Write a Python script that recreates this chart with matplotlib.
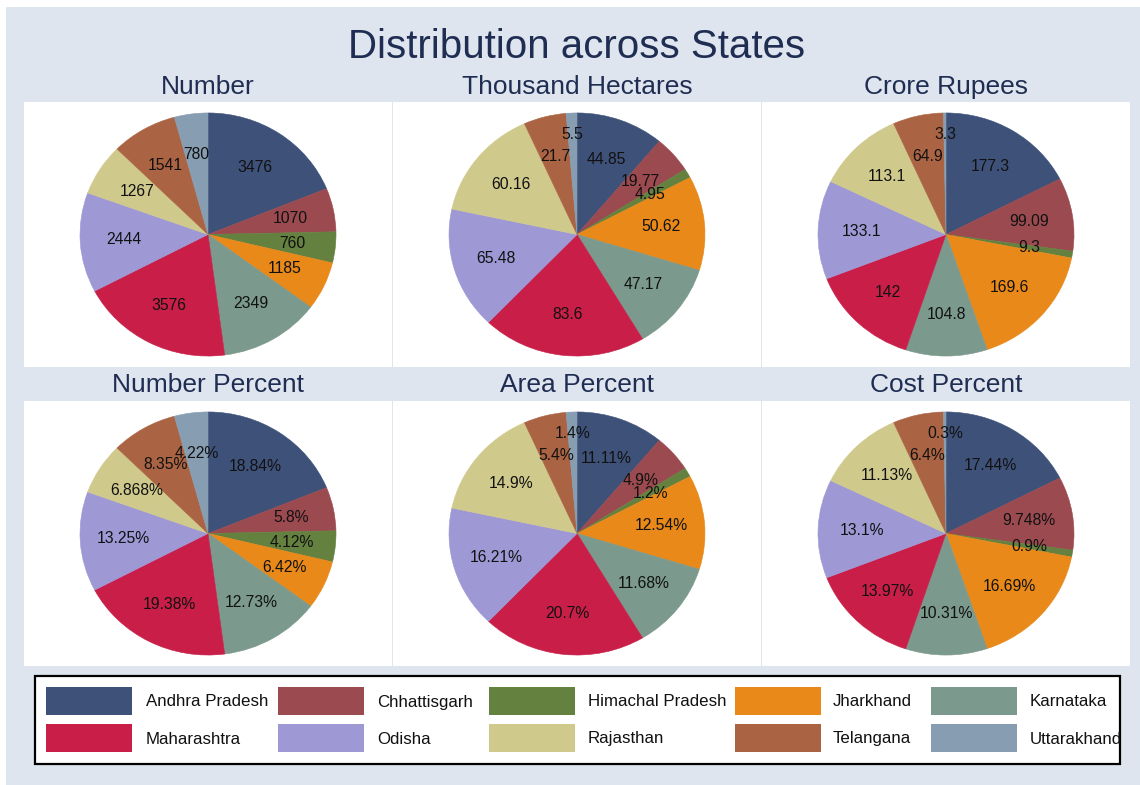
import numpy as np
import matplotlib.pyplot as plt
from matplotlib.patches import Rectangle

plt.rcParams['font.family'] = ['Liberation Sans', 'DejaVu Sans']

states = ["Andhra Pradesh", "Chhattisgarh", "Himachal Pradesh", "Jharkhand", "Karnataka",
          "Maharashtra", "Odisha", "Rajasthan", "Telangana", "Uttarakhand"]
colors = ["#3e5179", "#9b4a50", "#64813f", "#e8891a", "#7b998c",
          "#c81e47", "#9e98d5", "#d0c98c", "#ab6443", "#869db2"]

number = [3476, 1070, 760, 1185, 2349, 3576, 2444, 1267, 1541, 780]
hectares = [44.85, 19.77, 4.95, 50.62, 47.17, 83.6, 65.48, 60.16, 21.7, 5.5]
rupees = [177.3, 99.09, 9.3, 169.6, 104.8, 142, 133.1, 113.1, 64.9, 3.3]

number_pct = ["18.84%", "5.8%", "4.12%", "6.42%", "12.73%", "19.38%", "13.25%", "6.868%", "8.35%", "4.22%"]
area_pct = ["11.11%", "4.9%", "1.2%", "12.54%", "11.68%", "20.7%", "16.21%", "14.9%", "5.4%", "1.4%"]
cost_pct = ["17.44%", "9.748%", "0.9%", "16.69%", "10.31%", "13.97%", "13.1%", "11.13%", "6.4%", "0.3%"]

titlecol = "#1f2d52"
W, H = 1140, 785

fig = plt.figure(figsize=(W / 100, H / 100), dpi=100, facecolor="white")
fig.patches.append(Rectangle((6 / W, 0), 1, 1 - 7 / H, transform=fig.transFigure,
                             facecolor="#dfe5ef", edgecolor="none", zorder=-10))


def px_axes(x0, y0, w, h):
    return fig.add_axes([x0 / W, 1 - (y0 + h) / H, w / W, h / H])


def draw_pie(ax, vals, labels, far=()):
    wedges, texts = ax.pie(vals, labels=labels, colors=colors, startangle=90,
                           counterclock=False, labeldistance=0.66,
                           wedgeprops=dict(linewidth=0.4),
                           textprops=dict(fontsize=11.3, color="#111111"))
    for w, t, name in zip(wedges, texts, states):
        w.set_edgecolor(w.get_facecolor())
        t.set_ha("center")
        t.set_va("center")
        if name in far:
            ang = np.deg2rad((w.theta1 + w.theta2) / 2)
            t.set_position((0.82 * np.cos(ang), 0.82 * np.sin(ang)))
    ax.set_aspect("auto")
    ax.set_xlim(-184 / 128, 184 / 128)
    ax.set_ylim(-133 / 122, 133 / 122)
    ax.set_frame_on(True)
    for s in ax.spines.values():
        s.set_visible(False)
    ax.set_facecolor("white")
    ax.set_xticks([])
    ax.set_yticks([])


col_x = [24, 393, 762]
panels = [
    ("Number", number, [str(v) for v in number], ()),
    ("Thousand Hectares", hectares, [f"{v:g}" for v in hectares], ("Uttarakhand",)),
    ("Crore Rupees", rupees, [f"{v:g}" for v in rupees], ("Uttarakhand",)),
    ("Number Percent", number, number_pct, ()),
    ("Area Percent", hectares, area_pct, ("Uttarakhand",)),
    ("Cost Percent", rupees, cost_pct, ("Uttarakhand",)),
]

for i, (title, vals, labs, far) in enumerate(panels):
    r, c = divmod(i, 3)
    y0 = 102 if r == 0 else 401
    ax = px_axes(col_x[c], y0, 368, 265)
    draw_pie(ax, vals, labs, far)
    fig.text((col_x[c] + 184) / W, 1 - (87 if r == 0 else 385) / H, title,
             ha="center", va="center", fontsize=19, color=titlecol)

fig.text(577 / W, 1 - 47 / H, "Distribution across States", ha="center", va="center",
         fontsize=29, color=titlecol)

# legend box
fig.patches.append(Rectangle((35 / W, 1 - 764 / H), 1085 / W, 88 / H, transform=fig.transFigure,
                             facecolor="white", edgecolor="black", linewidth=1.6, zorder=1))
sw_x = [46, 278, 489, 735, 931]
tx_x = [146, 377, 588, 833, 1030]
row_y = [701, 738]
for k, (name, colr) in enumerate(zip(states, colors)):
    r, c = divmod(k, 5)
    fig.patches.append(Rectangle((sw_x[c] / W, 1 - (row_y[r] + 14) / H), 86 / W, 28 / H,
                                 transform=fig.transFigure, facecolor=colr,
                                 edgecolor="none", zorder=2))
    fig.text(tx_x[c] / W, 1 - (row_y[r] + 1) / H, name, ha="left", va="center",
             fontsize=12.2, color="#111111", zorder=3)

fig.savefig("out.png", dpi=100, facecolor="white")
